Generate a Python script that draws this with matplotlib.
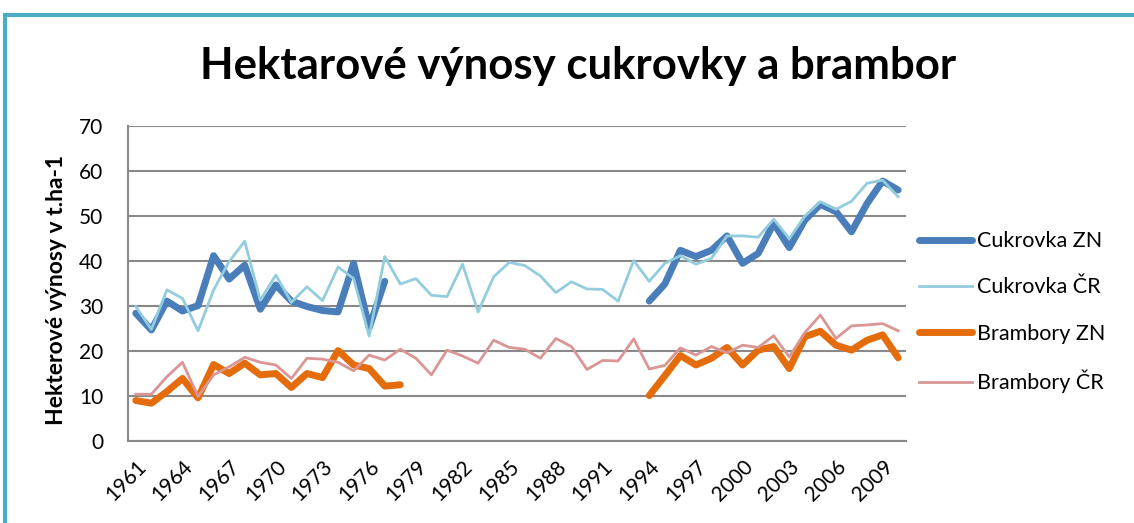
import numpy as np
import matplotlib.pyplot as plt
from matplotlib.patches import Rectangle

plt.rcParams.update({'font.family': ['Lato', 'DejaVu Sans'], 'font.size': 15})

years = np.arange(1961, 2011)
NA = np.nan

cukrovka_zn = [28.4, 24.7, 31.1, 28.9, 30.1, 41.2, 36.0, 39.1, 29.3, 34.7,
               31.1, 29.9, 29.0, 28.7, 39.5, 25.2, 35.5] + [NA] * 16 + \
              [31.1, 34.9, 42.4, 41.0, 42.4, 45.6, 39.5, 41.7, 48.4, 43.0,
               49.1, 52.6, 51.0, 46.5, 52.8, 57.8, 55.8]
cukrovka_cr = [29.9, 24.8, 33.6, 31.7, 24.5, 33.6, 39.9, 44.4, 31.3, 36.9,
               30.8, 34.3, 31.2, 38.7, 36.1, 23.3, 41.0, 34.9, 36.1, 32.4,
               32.1, 39.3, 28.7, 36.5, 39.7, 39.0, 36.7, 33.0, 35.4, 33.8,
               33.7, 31.1, 40.1, 35.5, 39.5, 41.2, 39.3, 40.6, 45.6, 45.6,
               45.3, 49.3, 45.0, 50.0, 53.2, 51.5, 53.3, 57.3, 58.0, 54.3]
brambory_zn = [9.0, 8.4, 11.0, 13.9, 9.6, 17.0, 15.0, 17.3, 14.7, 15.0,
               11.9, 15.0, 14.1, 20.1, 16.9, 16.1, 12.2, 12.5] + [NA] * 15 + \
              [10.1, 14.5, 19.0, 16.9, 18.4, 20.8, 16.9, 20.2, 21.0, 16.1,
               23.2, 24.4, 21.3, 20.2, 22.4, 23.6, 18.5]
brambory_cr = [10.4, 10.4, 14.3, 17.5, 9.9, 14.7, 16.5, 18.6, 17.5, 16.9,
               13.9, 18.4, 18.2, 17.5, 15.6, 19.1, 18.0, 20.4, 18.4, 14.7,
               20.2, 18.9, 17.3, 22.4, 20.8, 20.4, 18.4, 22.8, 21.0, 15.9,
               17.9, 17.8, 22.7, 16.0, 16.8, 20.7, 19.1, 21.0, 19.6, 21.3,
               20.8, 23.4, 18.7, 24.1, 28.0, 22.8, 25.6, 25.8, 26.1, 24.5]

fig = plt.figure(figsize=(11.34, 5.23), dpi=100)
ax = fig.add_axes([0.1129, 0.1568, 0.686, 0.602])

# chart frame
fig.patches.append(Rectangle((5 / 1134, -0.1), 1.2, (523 - 15) / 523 + 0.1,
                             transform=fig.transFigure, fill=False,
                             edgecolor='#4BACC6', linewidth=3))

ax.plot(years, cukrovka_zn, color='#4A7EBB', lw=5, label='Cukrovka ZN', solid_capstyle='round')
ax.plot(years, cukrovka_cr, color='#93CDDD', lw=2, label='Cukrovka ČR')
ax.plot(years, brambory_zn, color='#E46C0A', lw=5, label='Brambory ZN', solid_capstyle='round')
ax.plot(years, brambory_cr, color='#D99694', lw=2, label='Brambory ČR')

ax.set_xlim(1960.5, 2010.5)
ax.set_ylim(0, 70)
ax.set_yticks(range(0, 71, 10))
ax.set_xticks(years[::3])
ax.set_xticklabels([str(y) for y in years[::3]], rotation=45, ha='right',
                   rotation_mode='anchor')
ax.tick_params(length=0, pad=11, labelsize=15)
ax.tick_params(axis='y', pad=18)
ax.grid(axis='y', color='#898989', lw=1.5)
ax.set_axisbelow(True)
for s in ['top', 'right']:
    ax.spines[s].set_visible(False)
for s in ['left', 'bottom']:
    ax.spines[s].set_color('#898989')
    ax.spines[s].set_linewidth(1.5)

ax.set_ylabel('Hekterové výnosy v t.ha-1', fontweight='bold', fontsize=16.5)
ax.yaxis.set_label_coords(-0.079, 0.48)

fig.text(0.51, 0.873, 'Hektarové výnosy cukrovky a brambor', ha='center', va='center',
         fontsize=31.5, fontweight='bold')

fig.legend(loc='center left', bbox_to_anchor=(0.793, 0.403), frameon=False,
           fontsize=15.5, handlelength=2.5, handletextpad=0.2, labelspacing=1.22)

fig.savefig('out.png', dpi=100)
